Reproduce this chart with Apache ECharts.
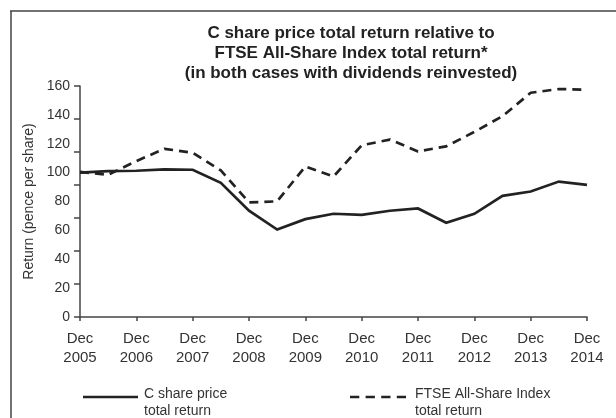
<!DOCTYPE html>
<html>
<head>
<meta charset="utf-8">
<script src="https://cdn.jsdelivr.net/npm/echarts@6/dist/echarts.min.js"></script>
<style>
html,body{margin:0;padding:0;background:#fff;}
#c{width:616px;height:418px;}
</style>
</head>
<body>
<div id="c"></div>
<script>
var periods = ['Dec 2005','Jun 2006','Dec 2006','Jun 2007','Dec 2007','Jun 2008','Dec 2008','Jun 2009','Dec 2009','Jun 2010','Dec 2010','Jun 2011','Dec 2011','Jun 2012','Dec 2012','Jun 2013','Dec 2013','Jun 2014','Dec 2014'];
var cShare = [100,101,101.3,102.3,102,92.9,73.6,60.6,67.8,71.5,70.8,73.6,75.2,65.3,71.5,83.9,86.9,93.8,91.5];
var ftse = [100.5,98.5,108,116.5,113.8,101.5,79.4,80.1,104.3,97.3,118.9,122.9,114.7,118.2,128.2,139.1,155.3,157.9,157.4];
var yTickLabels = [0,20,40,60,80,100,120,140,160];
var titleLines = ['C share price total return relative to','FTSE All-Share Index total return*','(in both cases with dividends reinvested)'];
var legendNames = ['C share price\ntotal return','FTSE All-Share Index\ntotal return'];

var chart = echarts.init(document.getElementById('c'), null, {renderer:'canvas'});
var font = 'Liberation Sans, Arial, Helvetica, sans-serif';
var axisColor = '#444';
var textColor = '#333';

var option = {
  backgroundColor:'#fff',
  animation:false,
  title:{
    text:titleLines.join('\n'),
    left:346, top:18, textAlign:'center',
    textStyle:{fontFamily:font,fontSize:17,fontWeight:'bold',color:'#222',lineHeight:20}
  },
  grid:{left:80,right:29,top:86,bottom:101},
  xAxis:{
    type:'category', data:periods, boundaryGap:false,
    axisLine:{lineStyle:{color:axisColor,width:1.5}},
    axisTick:{interval:1,length:4,lineStyle:{color:axisColor,width:1.5}},
    axisLabel:{interval:1,margin:13,fontFamily:font,fontSize:15,color:textColor,lineHeight:18.5,
      formatter:function(v){return v.replace(' ','\n');}},
    splitLine:{show:false}
  },
  yAxis:[{
    type:'value', min:0, max:160, interval:20,
    axisLine:{show:true,lineStyle:{color:axisColor,width:1.5}},
    axisTick:{show:false},
    axisLabel:{margin:10,fontFamily:font,fontSize:14,color:textColor,
      formatter:function(v){return yTickLabels.indexOf(v)>=0?String(v):'';}},
    splitLine:{show:false},
    name:'Return (pence per share)', nameLocation:'middle', nameGap:39, nameRotate:90,
    nameTextStyle:{fontFamily:font,fontSize:14,color:textColor}
  },{
    type:'value', min:0, max:7, interval:1, position:'left',
    axisLine:{show:false},
    axisTick:{show:true,length:6,lineStyle:{color:axisColor,width:1.5}},
    axisLabel:{show:false}, splitLine:{show:false}
  }],
  series:[{
    name:legendNames[0], type:'line', data:cShare, symbol:'none',
    lineStyle:{color:'#222',width:2.7,join:'miter'}
  },{
    name:legendNames[1], type:'line', data:ftse, symbol:'none',
    lineStyle:{color:'#222',width:2.7,type:[9,6]}
  }],
  graphic:[
    {type:'line',shape:{x1:10,y1:11,x2:616,y2:11},style:{stroke:axisColor,lineWidth:1.5}},
    {type:'line',shape:{x1:11,y1:11,x2:11,y2:418},style:{stroke:axisColor,lineWidth:1.5}},
    {type:'line',shape:{x1:83,y1:397,x2:138,y2:397},style:{stroke:'#222',lineWidth:2.7}},
    {type:'text',left:144,top:385,style:{text:legendNames[0],fontFamily:font,fontSize:14,fill:textColor,lineHeight:17.5}},
    {type:'line',shape:{x1:350,y1:397,x2:406,y2:397},style:{stroke:'#222',lineWidth:2.7,lineDash:[9.3,6.3]}},
    {type:'text',left:415,top:385,style:{text:legendNames[1],fontFamily:font,fontSize:14,fill:textColor,lineHeight:17.5}}
  ]
};
chart.setOption(option);
</script>
</body>
</html>
